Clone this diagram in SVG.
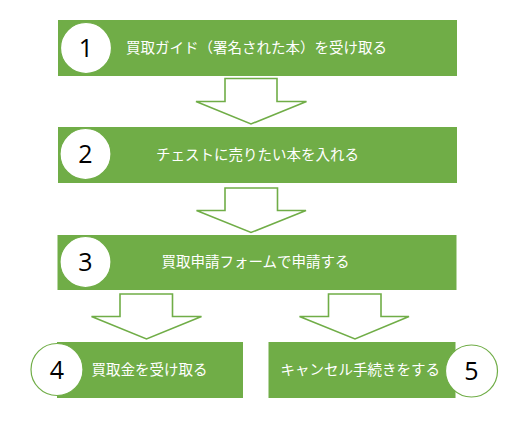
<svg xmlns="http://www.w3.org/2000/svg" width="527" height="425" viewBox="0 0 527 425">
<style>
.box{fill:#70AD47}
.circ{fill:#fff;stroke:#70AD47;stroke-width:1.2}
.num{font-family:"Open Sans","Noto Sans",sans-serif;font-size:25px;fill:#000;text-anchor:middle}
.lbl{font-family:"Noto Sans CJK JP",sans-serif;font-size:14.5px;fill:#fff}
.arr{fill:#fff;stroke:#70AD47;stroke-width:1.6;stroke-linejoin:miter}
</style>
<rect width="527" height="425" fill="#fff"/>
<g id="connectors">
<path class="arr" d="M225,78.5 H277 V101.5 H306.5 L251,124 L196,101.5 H225 Z"/>
<path class="arr" d="M225,188 H277.5 V210.5 H306 L251,232.5 L196.5,210.5 H225 Z"/>
<path class="arr" d="M120,294 H172.5 V316.5 H201.5 L146.5,339 L91.5,316.5 H120 Z"/>
<path class="arr" d="M328.5,294 H381 V316.5 H409 L355,339 L299.5,316.5 H328.5 Z"/>
</g>
<g id="node1">
<rect class="box" x="58" y="20" width="399" height="56"/>
<circle class="circ" cx="86" cy="48" r="25.5"/>
<text class="num" x="86" y="57">1</text>
<text class="lbl" x="126" y="53">買取ガイド（署名された本）を受け取る</text>
</g>
<g id="node2">
<rect class="box" x="58" y="127" width="399" height="56"/>
<circle class="circ" cx="85.5" cy="154" r="25.5"/>
<text class="num" x="85.5" y="163">2</text>
<text class="lbl" x="156" y="160">チェストに売りたい本を入れる</text>
</g>
<g id="node3">
<rect class="box" x="57.5" y="235" width="399" height="55"/>
<circle class="circ" cx="85.5" cy="262" r="25.5"/>
<text class="num" x="85.5" y="271">3</text>
<text class="lbl" x="161.5" y="267">買取申請フォームで申請する</text>
</g>
<g id="node4">
<rect class="box" x="57" y="342" width="186" height="56"/>
<circle class="circ" cx="57" cy="369.5" r="26"/>
<text class="num" x="57" y="378.5">4</text>
<text class="lbl" x="91.5" y="375">買取金を受け取る</text>
</g>
<g id="node5">
<rect class="box" x="268.5" y="342" width="187" height="56"/>
<circle class="circ" cx="471.5" cy="371" r="26"/>
<text class="num" x="471.5" y="380">5</text>
<text class="lbl" x="280.5" y="375">キャンセル手続きをする</text>
</g>
</svg>
